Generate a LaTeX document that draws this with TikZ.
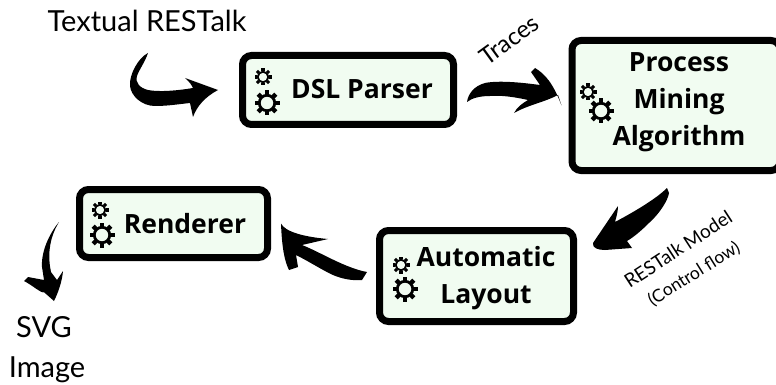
\documentclass[tikz,border=0pt]{standalone}
\usepackage{fontspec}
\setmainfont{Lato}
\newfontfamily\boxfont{Open Sans}
\usetikzlibrary{positioning}
\definecolor{boxgreen}{HTML}{F1FCF1}
\tikzset{procbox/.style={draw=black, fill=boxgreen, line width=7pt, rounded corners=9pt, inner sep=0pt},
  boxtext/.style={font=\boxfont\bfseries\fontsize{26.5}{37}\selectfont, align=center, inner sep=0pt},
  plaintext/.style={font=\fontsize{29}{32}\selectfont, inner sep=0pt},
  smalltext/.style={font=\fontsize{19}{22}\selectfont, inner sep=0pt},
  brush/.style={fill=black, draw=none},
  pics/gear/.style={code={
    \draw[line width=#1*0.22pt] (0,0) circle[radius=#1*0.62];
    \foreach \a in {0,45,...,315} \draw[line width=#1*0.36pt] (\a:#1*0.7) -- (\a:#1);
  }}}

\begin{document}
\begin{tikzpicture}[x=1pt,y=-1pt]
    \useasboundingbox (0,0) rectangle (776,385);
    \node[procbox, minimum width=211pt, minimum height=69pt] (dsl) at (348,90) {};
    \node[procbox, minimum width=208pt, minimum height=130pt] (mining) at (676,105.5) {};
    \node[procbox, minimum width=188pt, minimum height=68pt] (render) at (173.5,223.5) {};
    \node[procbox, minimum width=194pt, minimum height=91pt] (layout) at (476.5,276) {};

    \node[boxtext] (dsltext) at (362,89) {DSL Parser};
    \node[boxtext] (miningtext) at (679,102) {Process\\Mining\\Algorithm};
    \node[boxtext] (rendertext) at (185,224) {Renderer};
    \node[boxtext] (layouttext) at (486,278) {Automatic\\Layout};

    \pic at (263,77) {gear=8.5};
    \pic at (267,103) {gear=12.5};
    \pic at (588,92) {gear=8.5};
    \pic at (601,111) {gear=12.5};
    \pic at (100,210) {gear=8.5};
    \pic at (102,235) {gear=12.5};
    \pic at (401,265) {gear=8.5};
    \pic at (405,289) {gear=12.5};

    \node[plaintext] (source) at (147,21) {Textual RESTalk};
    \node[plaintext] (svg) at (44,327) {SVG};
    \node[plaintext] (image) at (47,370) {Image};
    \node[smalltext, font=\fontsize{24}{28}\selectfont, rotate=36] (traces) at (509,40) {Traces};
    \node[smalltext, rotate=33] (model) at (678,249) {RESTalk Model};
    \node[smalltext, font=\fontsize{17.5}{22}\selectfont, rotate=32] (flow) at (694,274) {(Control flow)};

    % brush arrows, tips hang off the boxes
    \coordinate[left=21pt of dsl.west] (dsltip);
    \coordinate[right=10pt of dsl.east] (tracestail);
    \coordinate[left=7pt of mining.west] (miningtip);
    \coordinate (modeltail) at (667,188);
    \coordinate[right=16pt of layout.east] (layouttip);
    \coordinate (layouttail) at (367,272);
    \coordinate[right=10pt of render.east] (rendertip);
    \coordinate (rendertail) at (59,222);
    \coordinate[above=24pt of svg.north] (svgtip);

    \fill[brush] (source.south) ++(1,21) .. controls (138,58) and (129,75) .. (130,86)
      .. controls (131,96) and (142,106) .. (155,106) .. controls (168,106) and (180,104) .. (190,103)
      -- (193,117) .. controls (197,106) and (205,97) .. (dsltip) -- (185,78)
      .. controls (190,82) and (192,86) .. (193,88) .. controls (175,91) and (158,92) .. (148,90)
      .. controls (140,88) and (135,83) .. (137,76) .. controls (139,70) and (145,62) .. cycle;

    \fill[brush] (tracestail) ++(0,12) .. controls (468,94) and (474,86) .. (485,83)
      .. controls (500,80) and (525,83) .. (540,85) -- (531,72) -- (535,68)
      .. controls (545,74) and (553,83) .. (miningtip) -- (558,95)
      .. controls (545,102) and (528,105) .. (514,113) .. controls (517,107) and (523,103) .. (528,100)
      .. controls (515,97) and (500,95) .. (490,96) .. controls (480,96) and (472,98) .. cycle;

    \fill[brush] (modeltail) -- (669,193) .. controls (668,200) and (660,213) .. (650,222)
      .. controls (642,230) and (634,237) .. (627,241) -- (632,248) -- (605,250)
      .. controls (598,250) and (592,248) .. (593,243) -- (618,206)
      .. controls (618,212) and (616,218) .. (615,222)
      .. controls (630,214) and (655,200) .. cycle;

    \fill[brush] (layouttail) -- (362,280) .. controls (350,281) and (340,278) .. (333,275)
      .. controls (322,270) and (310,262) .. (296,255) -- (298,267) -- (289,270)
      .. controls (285,262) and (282,250) .. (rendertip)
      .. controls (285,232) and (305,237) .. (328,239) -- (302,245)
      .. controls (320,252) and (345,268) .. cycle;

    \fill[brush] (rendertail) .. controls (49,234) and (41,252) .. (42,267) -- (44,280)
      -- (28,277) -- (24,281) .. controls (32,285) and (42,294) .. (svgtip) -- (54,301)
      .. controls (58,293) and (62,282) .. (63,271) -- (57,280) -- (51,272)
      .. controls (48,258) and (48,240) .. cycle;
  \end{tikzpicture}
\end{document}
